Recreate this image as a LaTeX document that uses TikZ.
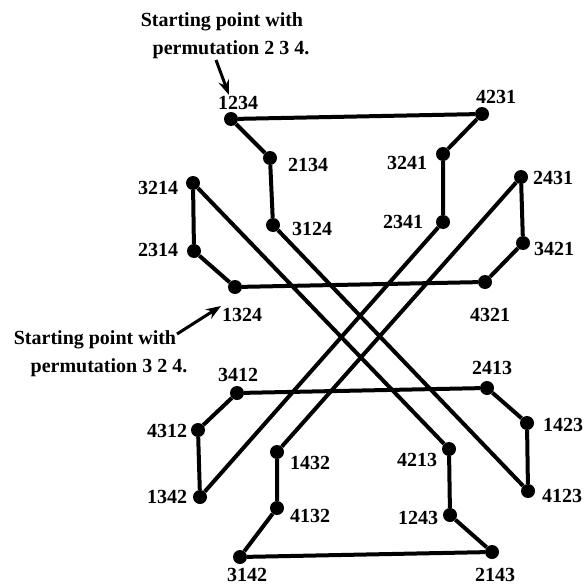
\documentclass[tikz,border=0pt]{standalone}
\usepackage{fontspec}
\setmainfont{Liberation Serif}
\usetikzlibrary{arrows.meta}
\begin{document}
\begin{tikzpicture}[x=1pt,y=-1pt,
  dot/.style={circle,fill=black,inner sep=0pt,minimum size=14pt},
  lbl/.style={inner sep=0pt,font=\fontsize{20}{22}\selectfont\bfseries},
  note/.style={inner sep=0pt,font=\fontsize{20}{22}\selectfont\bfseries},
  edge/.style={line width=4pt},
  pointer/.style={line width=3pt,-{Stealth[length=15pt,width=11pt]}}]
\useasboundingbox (0,0) rectangle (585,586);
% dots
\node[dot] (d1234) at (231,119) {};
\node[dot] (d4231) at (482,114) {};
\node[dot] (d2134) at (270,158) {};
\node[dot] (d3124) at (273,225) {};
\node[dot] (d3241) at (443,154) {};
\node[dot] (d2341) at (443,222) {};
\node[dot] (d3214) at (193,183) {};
\node[dot] (d2314) at (194,251) {};
\node[dot] (d1324) at (235,287) {};
\node[dot] (d2431) at (521,177) {};
\node[dot] (d3421) at (523,243) {};
\node[dot] (d4321) at (485,282) {};
\node[dot] (d3412) at (237,393) {};
\node[dot] (d2413) at (487,388) {};
\node[dot] (d4312) at (198,430) {};
\node[dot] (d1342) at (200,497) {};
\node[dot] (d1423) at (527,423) {};
\node[dot] (d4123) at (528,491) {};
\node[dot] (d1432) at (277,452) {};
\node[dot] (d4132) at (277,508) {};
\node[dot] (d4213) at (449,449) {};
\node[dot] (d1243) at (450,515) {};
\node[dot] (d3142) at (240,557) {};
\node[dot] (d2143) at (492,552) {};
% edges
\draw[edge] (d1234) -- (d4231);
\draw[edge] (d1234) -- (d2134) -- (d3124);
\draw[edge] (d4231) -- (d3241) -- (d2341);
\draw[edge] (d3214) -- (d2314) -- (d1324);
\draw[edge] (d1324) -- (d4321);
\draw[edge] (d2431) -- (d3421) -- (d4321);
\draw[edge] (d3214) -- (d4213);
\draw[edge] (d3124) -- (d4123);
\draw[edge] (d2431) -- (d1432);
\draw[edge] (d2341) -- (d1342);
\draw[edge] (d3412) -- (d2413);
\draw[edge] (d3412) -- (d4312) -- (d1342);
\draw[edge] (d2413) -- (d1423) -- (d4123);
\draw[edge] (d1432) -- (d4132) -- (d3142);
\draw[edge] (d4213) -- (d1243) -- (d2143);
\draw[edge] (d3142) -- (d2143);
% labels
\node[lbl] (l1234) at (238,103) {1234};
\node[lbl] (l4231) at (496,97) {4231};
\node[lbl] (l2134) at (308,165) {2134};
\node[lbl] (l3241) at (407,163) {3241};
\node[lbl] (l3124) at (312,229) {3124};
\node[lbl] (l2341) at (403,222) {2341};
\node[lbl] (l3214) at (158,188) {3214};
\node[lbl] (l2314) at (158,250) {2314};
\node[lbl] (l1324) at (242,315) {1324};
\node[lbl] (l4321) at (490,315) {4321};
\node[lbl] (l2431) at (553,178) {2431};
\node[lbl] (l3421) at (554,249) {3421};
\node[lbl] (l3412) at (238,375) {3412};
\node[lbl] (l2413) at (492,368) {2413};
\node[lbl] (l4312) at (167,431) {4312};
\node[lbl] (l1342) at (167,497) {1342};
\node[lbl] (l1423) at (563,425) {1423};
\node[lbl] (l4123) at (562,496) {4123};
\node[lbl] (l1432) at (310,463) {1432};
\node[lbl] (l4213) at (417,460) {4213};
\node[lbl] (l4132) at (310,516) {4132};
\node[lbl] (l1243) at (418,518) {1243};
\node[lbl] (l3142) at (247,575) {3142};
\node[lbl] (l2143) at (495,575) {2143};
% annotations
\node[note] (n1a) at (222,22) {Starting point with};
\node[note] (n1b) at (231,50) {permutation 2 3 4.};
\node[note] (n2a) at (95,340) {Starting point with};
\node[note] (n2b) at (109,368) {permutation 3 2 4.};
\coordinate (a1s) at (216,60);
\coordinate (a1e) at (229,95);
\coordinate (a2s) at (177,334);
\coordinate (a2e) at (221,306);
\draw[pointer] (a1s) -- (a1e);
\draw[pointer] (a2s) -- (a2e);
\end{tikzpicture}
\end{document}
